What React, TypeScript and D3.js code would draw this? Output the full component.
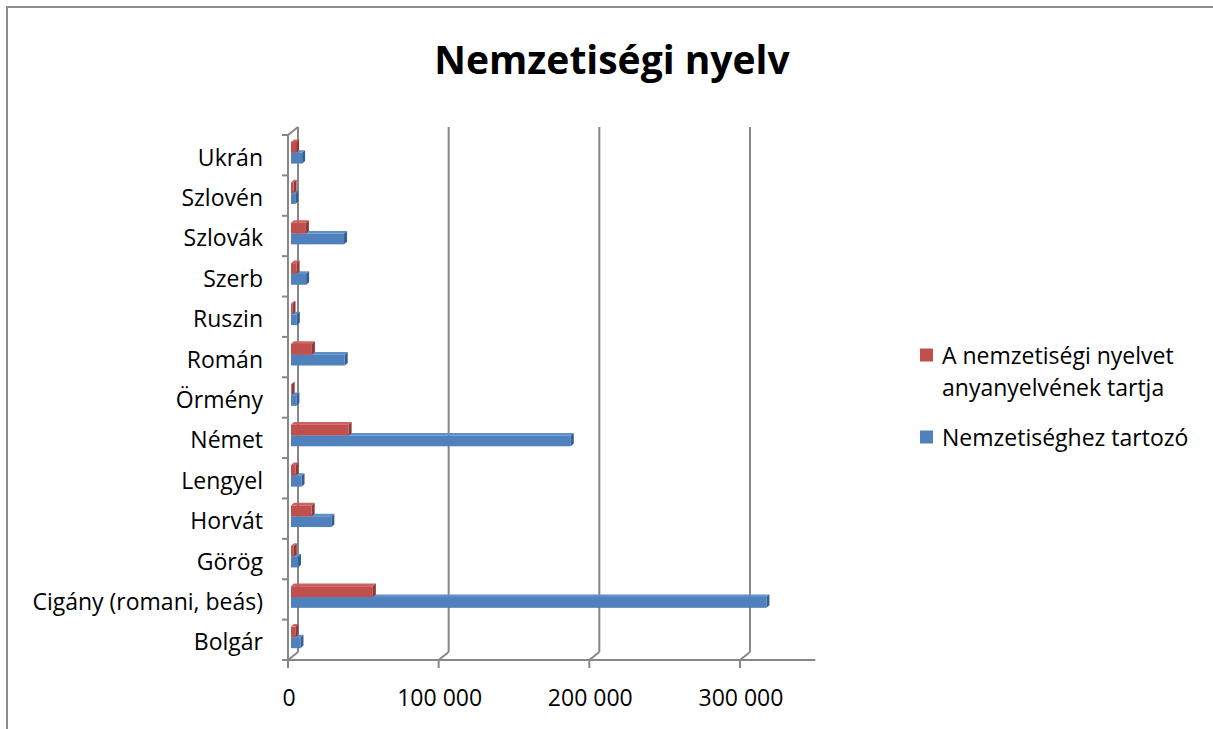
import * as d3 from "d3";

const categories = [
  "Bolgár",
  "Cigány (romani, beás)",
  "Görög",
  "Horvát",
  "Lengyel",
  "Német",
  "Örmény",
  "Román",
  "Ruszin",
  "Szerb",
  "Szlovák",
  "Szlovén",
  "Ukrán",
];
// Nemzetiséghez tartozó
const nationality = [6272, 315583, 4642, 26774, 7001, 185696, 3571, 35641, 3882, 10038, 35208, 2820, 7396];
// A nemzetiségi nyelvet anyanyelvének tartja
const motherTongue = [2899, 54339, 1872, 13716, 3049, 38248, 444, 13886, 999, 3708, 9888, 1723, 3384];
const xTicks = [0, 100000, 200000, 300000];
const gridValues = [100000, 200000, 300000];
const legendItems = [
  { lines: ["A nemzetiségi nyelvet", "anyanyelvének tartja"], color: "#C0504D" },
  { lines: ["Nemzetiséghez tartozó"], color: "#4F81BD" },
];

const W = 1213;
const H = 729;
const FONT = "'Open Sans', 'Noto Sans', sans-serif";

const huFormat = d3
  .formatLocale({ decimal: ",", thousands: " ", grouping: [3], currency: ["", ""] })
  .format(",");

export default function App() {
  // front plane of the 3D box
  const left = 288;
  const top = 135;
  const bottom = 660;
  const depthX = 10;
  const depthY = 8;

  const x = d3.scaleLinear().domain([0, 350000]).range([left, 815.3]);
  const y = d3
    .scaleBand()
    .domain(categories.slice().reverse())
    .range([top, bottom]);

  // bars sit a bit behind the front plane
  const barOffX = 3;
  const barOffY = -2.4;
  const barDX = 3;
  const barDY = 2.6;
  const bandPad = (y.bandwidth() - 21.6) / 2;
  const inner = d3
    .scaleBand()
    .domain(["red", "blue"])
    .range([bandPad, bandPad + 21.6]);

  const grey = "#878787";

  const bar3d = (cat: string, v: number, key: string, front: string, topC: string, side: string) => {
    const y0 = (y(cat) as number) + (inner(key) as number) + barOffY;
    const h = inner.bandwidth();
    const x0 = x(0) + barOffX;
    const x1 = x(v) + barOffX;
    const topPts = [
      [x0, y0],
      [x0 + barDX, y0 - barDY],
      [x1 + barDX, y0 - barDY],
      [x1, y0],
    ];
    const sidePts = [
      [x1, y0],
      [x1 + barDX, y0 - barDY],
      [x1 + barDX, y0 + h - barDY],
      [x1, y0 + h],
    ];
    return (
      <g key={cat + key}>
        <polygon points={topPts.map((p) => p.join(",")).join(" ")} fill={topC} />
        <polygon points={sidePts.map((p) => p.join(",")).join(" ")} fill={side} />
        <rect x={x0} y={y0} width={x1 - x0} height={h} fill={front} />
      </g>
    );
  };

  return (
    <svg
      width={W}
      height={H}
      style={{ position: "absolute", left: 0, top: 0, background: "#fff", fontVariantLigatures: "none" }}
      fontFamily={FONT}
    >
      <rect x={7} y={7} width={W + 20} height={H + 20} fill="#fff" stroke="#8c8c8c" strokeWidth={2} />

      <text x={612} y={74} textAnchor="middle" fontSize={39} fontWeight="bold" fill="#000">
        Nemzetiségi nyelv
      </text>

      {/* back-left wall edges */}
      <g stroke={grey} strokeWidth={2} fill="none">
        <line x1={left + depthX} y1={top - depthY} x2={left + depthX} y2={bottom - depthY} />
        <line x1={left} y1={top} x2={left + depthX} y2={top - depthY} />
        <line x1={left} y1={bottom} x2={left + depthX} y2={bottom - depthY} />
        {gridValues.map((v) => (
          <g key={v}>
            <line x1={x(v) + depthX} y1={top - depthY} x2={x(v) + depthX} y2={bottom - depthY} />
            <line x1={x(v) + depthX} y1={bottom - depthY} x2={x(v)} y2={bottom} />
          </g>
        ))}
      </g>

      {/* bars */}
      {categories.map((c, i) => (
        <g key={c}>
          {bar3d(c, nationality[i], "blue", "#4F81BD", "#5E8FCB", "#345E91")}
          {bar3d(c, motherTongue[i], "red", "#C0504D", "#CC625F", "#8E3A38")}
        </g>
      ))}

      {/* front axes */}
      <g stroke={grey} strokeWidth={2} fill="none">
        <line x1={left} y1={top} x2={left} y2={bottom} />
        <line x1={left - 6} y1={bottom} x2={x(350000)} y2={bottom} />
        {d3.range(categories.length + 1).map((i) => {
          const yy = top + i * y.step();
          return <line key={i} x1={left - 6} y1={yy} x2={left} y2={yy} />;
        })}
        {xTicks.map((v) => (
          <line key={v} x1={x(v)} y1={bottom} x2={x(v)} y2={bottom + 8} />
        ))}
      </g>

      {/* category labels */}
      {categories.map((c) => (
        <text
          key={c}
          x={263}
          y={(y(c) as number) + y.bandwidth() / 2 + 1.5}
          textAnchor="end"
          dominantBaseline="central"
          fontSize={23}
          fill="#000"
        >
          {c}
        </text>
      ))}

      {/* value labels */}
      {xTicks.map((v) => (
        <text key={v} x={x(v) + 1} y={706} textAnchor="middle" fontSize={23} fill="#000">
          {huFormat(v)}
        </text>
      ))}

      {/* legend */}
      {(() => {
        let cy = 355;
        return legendItems.map((item, i) => {
          const g = (
            <g key={i}>
              <rect x={920} y={cy - 6.5} width={13} height={13} fill={item.color} />
              {item.lines.map((ln, j) => (
                <text key={j} x={942} y={cy + j * 32} dominantBaseline="central" fontSize={23} fill="#000">
                  {ln}
                </text>
              ))}
            </g>
          );
          cy += item.lines.length * 32 + 18;
          return g;
        });
      })()}
    </svg>
  );
}
